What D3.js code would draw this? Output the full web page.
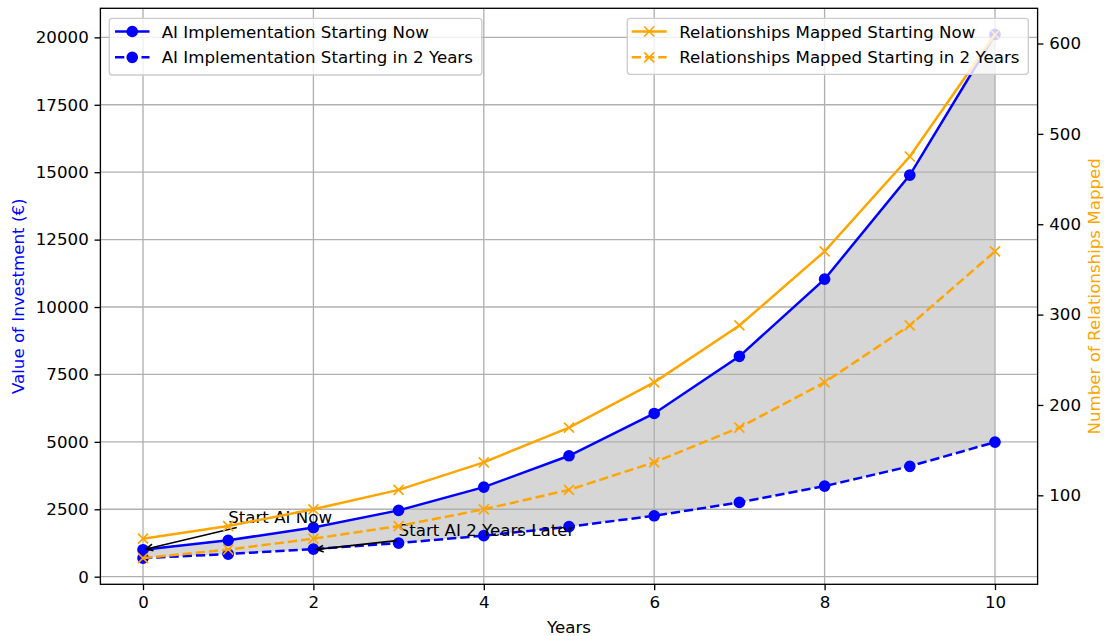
<!DOCTYPE html>
<html>
<head>
<meta charset="utf-8">
<script src="https://cdn.jsdelivr.net/npm/d3@7"></script>
<style>
  html, body { margin: 0; padding: 0; background: #fff; }
  svg { display: block; font-family: "DejaVu Sans", sans-serif; }
</style>
</head>
<body>
<svg id="chart" width="1104" height="636"></svg>
<script>
// ---- data ----
const years = [0, 1, 2, 3, 4, 5, 6, 7, 8, 9, 10];
const aiNow = [1000, 1350, 1823, 2460, 3322, 4484, 6053, 8172, 11032, 14894, 20107];
const aiLater = [689, 840, 1024, 1248, 1521, 1854, 2260, 2755, 3359, 4094, 4991];
const relNow = [52, 66, 84.5, 106, 136.5, 175, 225, 288, 370, 475, 610];
const relLater = [30.5, 40, 52, 66, 84.5, 106, 136.5, 175, 225, 288, 370];
const xTicks = [0, 2, 4, 6, 8, 10];
const leftTicks = [0, 2500, 5000, 7500, 10000, 12500, 15000, 17500, 20000];
const rightTicks = [100, 200, 300, 400, 500, 600];
const labels = {
  aiNow: "AI Implementation Starting Now",
  aiLater: "AI Implementation Starting in 2 Years",
  relNow: "Relationships Mapped Starting Now",
  relLater: "Relationships Mapped Starting in 2 Years",
  xTitle: "Years",
  yLeft: "Value of Investment (€)",
  yRight: "Number of Relationships Mapped"
};
const annotations = [
  { text: "Start AI Now", tx: 1, ty: 2000, px: 0, py: 1000 },
  { text: "Start AI 2 Years Later", tx: 3, ty: 1500, px: 2, py: 1000 }
];

// ---- layout (matplotlib @120dpi) ----
const L = 100.4, R = 1037.6, T = 8.3, B = 584.3;
const PT = 120 / 72;
const FS = 10 * PT;
const LW = 1.5 * PT;
const DASH = `${3.7 * LW},${1.6 * LW}`;
const BLUE = "#0000ff", ORANGE = "#ffa500";

function padded(arr) {
  const lo = d3.min(arr), hi = d3.max(arr), m = (hi - lo) * 0.05;
  return [lo - m, hi + m];
}
const x = d3.scaleLinear().domain(padded(years)).range([L, R]);
const yL = d3.scaleLinear().domain(padded(aiNow.concat(aiLater))).range([B, T]);
const yR = d3.scaleLinear().domain(padded(relNow.concat(relLater))).range([B, T]);

const svg = d3.select("#chart");
svg.append("rect").attr("width", 1104).attr("height", 636).attr("fill", "#fff");

const defs = svg.append("defs");
defs.append("clipPath").attr("id", "clip").append("rect")
  .attr("x", L).attr("y", T).attr("width", R - L).attr("height", B - T);

const plot = svg.append("g").attr("clip-path", "url(#clip)");

// fill between
const area = d3.area().x((d, i) => x(years[i])).y0((d, i) => yL(aiLater[i])).y1(d => yL(d));
plot.append("path").datum(aiNow).attr("d", area).attr("fill", "#d6d6d6");

// grid
const grid = plot.append("g").attr("stroke", "#b0b0b0").attr("stroke-width", 0.8 * PT);
grid.selectAll("line.v").data(xTicks).join("line")
  .attr("x1", d => x(d)).attr("x2", d => x(d)).attr("y1", T).attr("y2", B);
grid.selectAll("line.h").data(leftTicks).join("line")
  .attr("y1", d => yL(d)).attr("y2", d => yL(d)).attr("x1", L).attr("x2", R);

function markerAt(g, cx, cy, color, marker) {
  if (marker === "o") {
    g.append("circle").attr("cx", cx).attr("cy", cy).attr("r", 3 * PT)
      .attr("fill", color).attr("stroke", color).attr("stroke-width", PT);
  } else {
    const s = 3 * PT;
    g.append("path").attr("d", `M${cx - s},${cy - s}L${cx + s},${cy + s}M${cx - s},${cy + s}L${cx + s},${cy - s}`)
      .attr("stroke", color).attr("stroke-width", PT).attr("fill", "none");
  }
}

function drawSeries(g, vals, yScale, color, dashed, marker) {
  const line = d3.line().x((d, i) => x(years[i])).y(d => yScale(d));
  g.append("path").datum(vals).attr("d", line).attr("fill", "none")
    .attr("stroke", color).attr("stroke-width", LW)
    .attr("stroke-dasharray", dashed ? DASH : null);
  const pts = g.append("g");
  vals.forEach((v, i) => markerAt(pts, x(years[i]), yScale(v), color, marker));
}

const ax1 = plot.append("g");
drawSeries(ax1, aiNow, yL, BLUE, false, "o");
drawSeries(ax1, aiLater, yL, BLUE, true, "o");

// annotations
const annG = svg.append("g");
annotations.forEach(a => {
  const t = annG.append("text").attr("x", x(a.tx)).attr("y", yL(a.ty))
    .attr("font-size", FS).attr("fill", "#000").text(a.text);
  const bb = t.node().getBBox();
  const x0 = bb.x, x1 = bb.x + bb.width, y0 = bb.y, y1 = bb.y + bb.height;
  const cx = (x0 + x1) / 2, cy = (y0 + y1) / 2;
  const px = x(a.px), py = yL(a.py);
  const dx = px - cx, dy = py - cy;
  let tEdge = 1;
  if (dx !== 0) { const tx = ((dx < 0 ? x0 : x1) - cx) / dx; if (tx > 0) tEdge = Math.min(tEdge, tx); }
  if (dy !== 0) { const ty = ((dy < 0 ? y0 : y1) - cy) / dy; if (ty > 0) tEdge = Math.min(tEdge, ty); }
  let sx = cx + dx * tEdge, sy = cy + dy * tEdge;
  const len = Math.hypot(px - sx, py - sy);
  const ux = (px - sx) / len, uy = (py - sy) / len;
  const shrink = 2 * PT;
  sx += ux * shrink; sy += uy * shrink;
  const ex = px - ux * shrink, ey = py - uy * shrink;
  const hl = 0.4 * FS, hw = 0.2 * FS;
  const bx = ex - ux * hl, by = ey - uy * hl;
  annG.append("path")
    .attr("d", `M${sx},${sy}L${ex},${ey}M${bx - uy * hw},${by + ux * hw}L${ex},${ey}L${bx + uy * hw},${by - ux * hw}`)
    .attr("stroke", "#000").attr("stroke-width", PT).attr("fill", "none");
});

// legend helper
function legend(items, bx, by, bw, bh, hx0, hx1, tx, rows) {
  const g = svg.append("g");
  g.append("rect").attr("x", bx).attr("y", by).attr("width", bw).attr("height", bh)
    .attr("rx", 3).attr("fill", "#fff").attr("fill-opacity", 0.8)
    .attr("stroke", "#cccccc").attr("stroke-width", 0.8 * PT);
  items.forEach((it, i) => {
    const yy = rows[i];
    g.append("line").attr("x1", hx0).attr("x2", hx1).attr("y1", yy).attr("y2", yy)
      .attr("stroke", it.color).attr("stroke-width", LW)
      .attr("stroke-dasharray", it.dashed ? DASH : null);
    markerAt(g, (hx0 + hx1) / 2, yy, it.color, it.marker);
    g.append("text").attr("x", tx).attr("y", yy).attr("dy", "0.36em")
      .attr("font-size", FS).attr("fill", "#000").text(it.label);
  });
}

legend([
  { label: labels.aiNow, color: BLUE, dashed: false, marker: "o" },
  { label: labels.aiLater, color: BLUE, dashed: true, marker: "o" }
], 109.3, 18.3, 372.5, 56.7, 115, 149.5, 161.7, [31.5, 57.3]);

// ax2 series (twin axes drawn above ax1)
const ax2 = svg.append("g").attr("clip-path", "url(#clip)");
drawSeries(ax2, relNow, yR, ORANGE, false, "x");
drawSeries(ax2, relLater, yR, ORANGE, true, "x");

legend([
  { label: labels.relNow, color: ORANGE, dashed: false, marker: "x" },
  { label: labels.relLater, color: ORANGE, dashed: true, marker: "x" }
], 627.3, 18.3, 401, 56, 631.7, 666.7, 679.3, [31.5, 57.3]);

// axes
function styleAxis(g) {
  g.select(".domain").remove();
  g.selectAll(".tick line").attr("stroke", "#000").attr("stroke-width", 0.8 * PT);
  g.selectAll(".tick text").attr("font-size", FS).attr("fill", "#000")
    .attr("font-family", "DejaVu Sans, sans-serif");
}
const TL = 3.5 * PT;
svg.append("g").attr("transform", `translate(0,${B})`)
  .call(d3.axisBottom(x).tickValues(xTicks).tickSize(TL).tickPadding(TL).tickFormat(d3.format("d")))
  .call(styleAxis);
svg.append("g").attr("transform", `translate(${L},0)`)
  .call(d3.axisLeft(yL).tickValues(leftTicks).tickSize(TL).tickPadding(TL).tickFormat(d3.format("d")))
  .call(styleAxis);
svg.append("g").attr("transform", `translate(${R},0)`)
  .call(d3.axisRight(yR).tickValues(rightTicks).tickSize(TL).tickPadding(TL).tickFormat(d3.format("d")))
  .call(styleAxis);

// spines
svg.append("rect").attr("x", L).attr("y", T).attr("width", R - L).attr("height", B - T)
  .attr("fill", "none").attr("stroke", "#000").attr("stroke-width", 0.8 * PT);

// axis titles
svg.append("text").attr("x", (L + R) / 2).attr("y", 633).attr("text-anchor", "middle")
  .attr("font-size", FS).attr("fill", "#000").text(labels.xTitle);
svg.append("text").attr("transform", `translate(24,${(T + B) / 2}) rotate(-90)`)
  .attr("text-anchor", "middle").attr("font-size", FS).attr("fill", BLUE).text(labels.yLeft);
svg.append("text").attr("transform", `translate(1100,${(T + B) / 2}) rotate(-90)`)
  .attr("text-anchor", "middle").attr("font-size", FS).attr("fill", ORANGE).text(labels.yRight);
</script>
</body>
</html>
